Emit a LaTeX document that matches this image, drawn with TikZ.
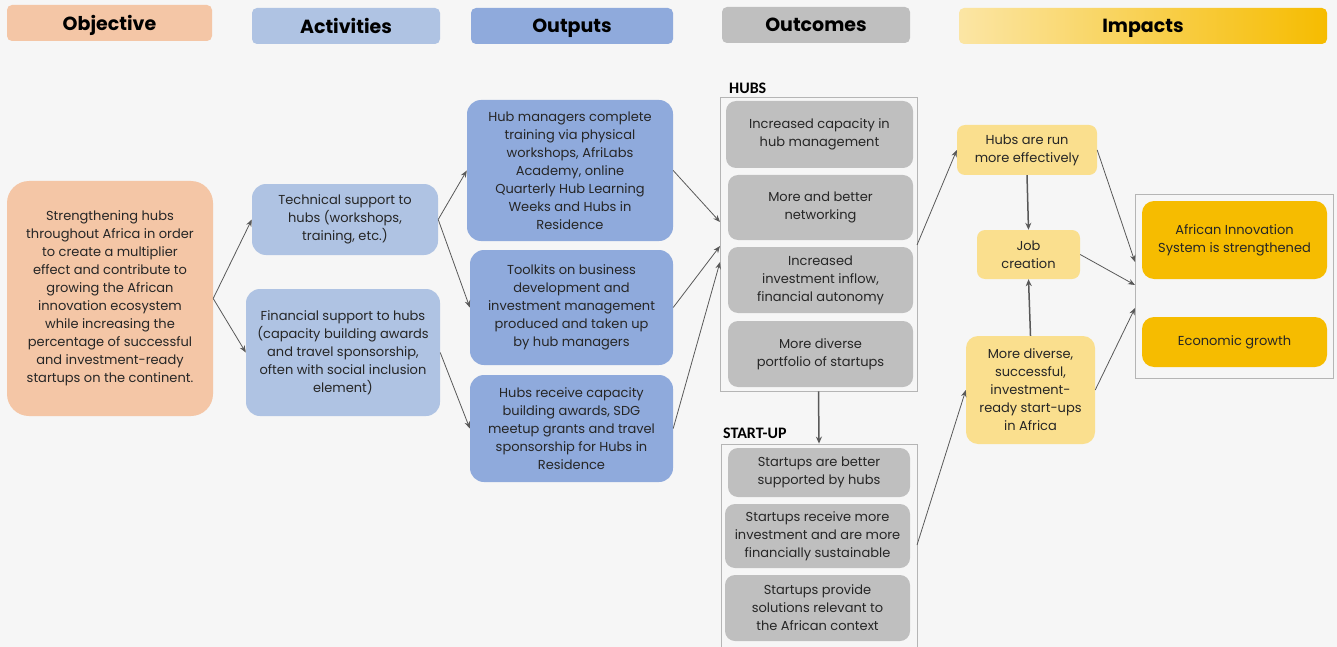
\documentclass[tikz,border=0pt]{standalone}
\usepackage{fontspec}
\setmainfont{Poppins}
\newfontfamily\labfont{Carlito}
\usetikzlibrary{arrows.meta}
\definecolor{bg}{HTML}{F6F6F6}
\definecolor{txt}{HTML}{262626}
\definecolor{peach}{HTML}{F4C6A6}
\definecolor{lblue}{HTML}{AFC3E3}
\definecolor{mblue}{HTML}{8FAADC}
\definecolor{lgrey}{HTML}{BFBFBF}
\definecolor{lyel}{HTML}{FADF8E}
\definecolor{dyel}{HTML}{F6BC00}
\definecolor{arrc}{HTML}{595959}
\definecolor{frame}{HTML}{B5B5B5}
\begin{document}
\begin{tikzpicture}[x=1pt,y=-1pt,
  box/.style={rounded corners=14pt, align=center, inner sep=0pt, text=txt, font=\fontsize{13}{18}\selectfont},
  gbox/.style={box, rounded corners=10pt, fill=lgrey},
  head/.style={rounded corners=5pt, align=center, inner sep=0pt, minimum height=36pt, text depth=0pt, text=black, font=\bfseries\fontsize{19}{22}\selectfont},
  cont/.style={draw=frame, line width=0.8pt, fill=none, inner sep=0pt},
  lab/.style={anchor=base west, inner sep=0pt, text=black, font=\labfont\bfseries\fontsize{16}{18}\selectfont},
  arr/.style={-{Stealth[length=7pt,width=5.5pt]}, draw=arrc, line width=0.8pt},
  tarr/.style={-{Stealth[length=7pt,width=6pt]}, draw=arrc, line width=1.5pt}]
\useasboundingbox (0,0) rectangle (1337,647);
\fill[bg] (0,0) rectangle (1337,647);

% headings
\node[head, fill=peach, minimum width=205pt] (hobj) at (109.5,23) {Objective};
\node[head, fill=lblue, minimum width=188pt] (hact) at (346,26) {Activities};
\node[head, fill=mblue, minimum width=202pt] (hout) at (572,26) {Outputs};
\node[head, fill=lgrey, minimum width=188pt] (hoc) at (816,25) {Outcomes};
\node[head, left color=lyel!80!white, right color=dyel, minimum width=368pt] (himp) at (1143,26) {Impacts};

% objective
\node[box, rounded corners=22pt, fill=peach, minimum width=206pt, minimum height=235pt] (obj) at (110,298.5)
 {Strengthening hubs\\throughout Africa in order\\to create a multiplier\\effect and contribute to\\growing the African\\innovation ecosystem\\while increasing the\\percentage of successful\\and investment-ready\\startups on the continent.};

% activities
\node[box, fill=lblue, minimum width=186pt, minimum height=71pt] (tech) at (345,219.5)
 {Technical support to\\hubs (workshops,\\training, etc.)};
\node[box, fill=lblue, minimum width=194pt, minimum height=127pt] (fin) at (343,352.5)
 {Financial support to hubs\\(capacity building awards\\and travel sponsorship,\\often with social inclusion\\element)};

% outputs
\node[box, fill=mblue, minimum width=206pt, minimum height=141pt] (out1) at (570,170.5)
 {Hub managers complete\\training via physical\\workshops, AfriLabs\\Academy, online\\Quarterly Hub Learning\\Weeks and Hubs in\\Residence};
\node[box, fill=mblue, minimum width=203pt, minimum height=115pt] (out2) at (571.5,307.5)
 {Toolkits on business\\development and\\investment management\\produced and taken up\\by hub managers};
\node[box, fill=mblue, minimum width=203pt, minimum height=107pt] (out3) at (571.5,428.5)
 {Hubs receive capacity\\building awards, SDG\\meetup grants and travel\\sponsorship for Hubs in\\Residence};

% outcomes - hubs
\node[lab] (hubslab) at (729,94) {HUBS};
\node[cont, minimum width=197pt, minimum height=294pt] (hubsC) at (818.5,244) {};
\node[gbox, minimum width=187pt, minimum height=67pt] (g1) at (819.5,134.5) {Increased capacity in\\hub management};
\node[gbox, minimum width=185pt, minimum height=65pt] (g2) at (820.5,207.5) {More and better\\networking};
\node[gbox, minimum width=185pt, minimum height=66pt] (g3) at (820.5,280) {Increased\\investment inflow,\\financial autonomy};
\node[gbox, minimum width=185pt, minimum height=66pt] (g4) at (820.5,354) {More diverse\\portfolio of startups};

% outcomes - start-up
\node[lab] (stlab) at (723,438) {START-UP};
\node[cont, minimum width=196pt, minimum height=210pt] (stC) at (819,549) {};
\node[gbox, minimum width=182pt, minimum height=49pt] (s1) at (819,472.5) {Startups are better\\supported by hubs};
\node[gbox, minimum width=185pt, minimum height=64pt] (s2) at (817.5,536) {Startups receive more\\investment and are more\\financially sustainable};
\node[gbox, minimum width=185pt, minimum height=66pt] (s3) at (817.5,608) {Startups provide\\solutions relevant to\\the African context};

% impacts
\node[box, rounded corners=8pt, fill=lyel, minimum width=140pt, minimum height=50pt] (run) at (1027,150) {Hubs are run\\more effectively};
\node[box, rounded corners=8pt, fill=lyel, minimum width=103pt, minimum height=49pt] (job) at (1028.5,254.5) {Job\\creation};
\node[box, rounded corners=12pt, fill=lyel, minimum width=129pt, minimum height=108pt] (div) at (1030.5,390) {More diverse,\\successful,\\investment-\\ready start-ups\\in Africa};
\node[cont, minimum width=198pt, minimum height=184pt] (impC) at (1234,286) {};
\node[box, rounded corners=12pt, fill=dyel, minimum width=185pt, minimum height=78pt] (ais) at (1234.5,240) {African Innovation\\System is strengthened};
\node[box, rounded corners=12pt, fill=dyel, minimum width=185pt, minimum height=50pt] (eg) at (1234.5,342) {Economic growth};

% coordinates on containers
\coordinate (hin1) at (720,222);
\coordinate (hin2) at (720,246);
\coordinate (hin3) at (720,262);
\coordinate (hout) at (917,245);
\coordinate (sout) at (917,545);
\coordinate (iin1) at (1135,262);
\coordinate (iin2) at (1135,285);
\coordinate (iin3) at (1135,308);

% arrows
\draw[arr] (obj.east) -- (tech.west);
\draw[arr] (obj.east) -- (fin.west);
\draw[arr] (tech.east) -- (out1.west);
\draw[arr] (tech.east) -- (out2.west);
\draw[arr] (fin.east) -- (out3.west);
\draw[arr] (out1.east) -- (hin1);
\draw[arr] (out2.east) -- (hin2);
\draw[arr] (out3.east) -- (hin3);
\draw[tarr] (hubsC.south) -- (stC.north);
\draw[arr] (hout) -- (run.west);
\draw[arr] (sout) -- (div.west);
\draw[tarr] (run.south) -- (job.north);
\draw[tarr] (div.north) -- (job.south);
\draw[arr] (run.east) -- (iin1);
\draw[arr] (job.east) -- (iin2);
\draw[arr] (div.east) -- (iin3);
\end{tikzpicture}
\end{document}
